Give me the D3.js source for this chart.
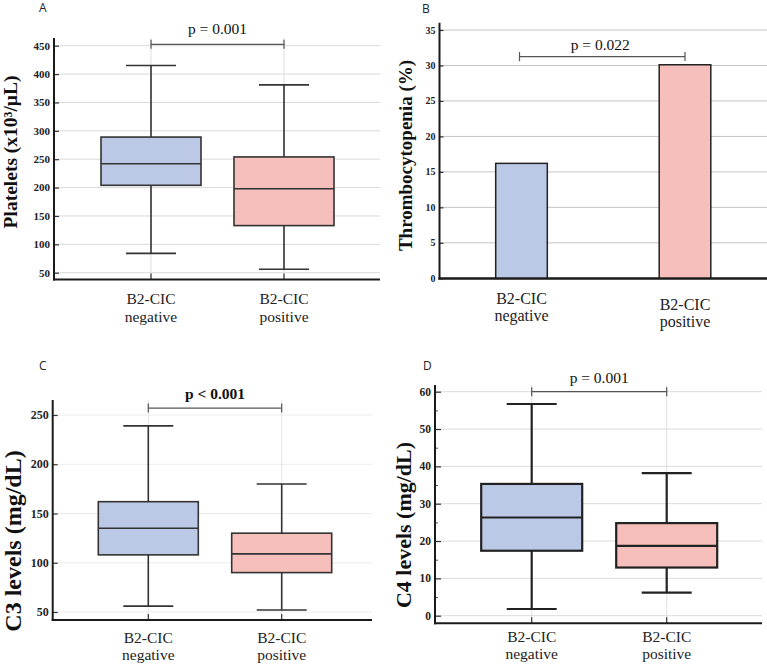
<!DOCTYPE html>
<html><head><meta charset="utf-8">
<script src="https://cdn.jsdelivr.net/npm/d3@7"></script>
<style>body{margin:0;background:#fff}svg{display:block}</style>
</head><body>
<svg id="chart" width="767" height="664"></svg>
<script>
// ---------- data ----------
const categories = ["negative", "positive"];
const groupPrefix = "B2-CIC";

const plateletsMin = [84, 56];
const plateletsQ1 = [204, 133];
const plateletsMedian = [242, 198];
const plateletsQ3 = [289, 254];
const plateletsMax = [415, 381];
const plateletsTicks = [50, 100, 150, 200, 250, 300, 350, 400, 450];

const thrombocytopenia = [16.2, 30.1];
const thrombTicks = [0, 5, 10, 15, 20, 25, 30, 35];

const c3Min = [56, 52];
const c3Q1 = [108, 90];
const c3Median = [135, 109];
const c3Q3 = [162, 130];
const c3Max = [239, 180];
const c3Ticks = [50, 100, 150, 200, 250];

const c4Min = [1.8, 6.2];
const c4Q1 = [17.4, 12.9];
const c4Median = [26.3, 18.7];
const c4Q3 = [35.3, 24.8];
const c4Max = [56.7, 38.2];
const c4Ticks = [0, 10, 20, 30, 40, 50, 60];
const c4MinorTicks = [5, 15, 25, 35, 45, 55];

const pLabels = ["p = 0.001", "p = 0.022", "p < 0.001", "p = 0.001"];
const bracketValues = [452.5, 31.25, 257, 60];
const panelLetters = ["A", "B", "C", "D"];
const yTitles = ["Platelets (x10\u00B3/\u03BCL)", "Thrombocytopenia (%)", "C3 levels (mg/dL)", "C4 levels (mg/dL)"];

const fillColors = ["#bcc9e6", "#f7bfbc"];
const serif = "'Liberation Serif','Times New Roman',serif";

const svg = d3.select("#chart");

function panel(cfg) {
  const g = svg.append("g");
  const x = d3.scalePoint().domain(categories).range(cfg.xRange);
  const y = d3.scaleLinear().domain(cfg.yDomain).range(cfg.yRange);

  // horizontal grid
  g.selectAll(".hg").data(cfg.ticks).join("line")
    .attr("x1", cfg.left).attr("x2", cfg.right)
    .attr("y1", d => y(d)).attr("y2", d => y(d))
    .attr("stroke", cfg.gridColor).attr("stroke-width", 1);
  // vertical grid
  if (cfg.vgrid) {
    g.selectAll(".vg").data(categories).join("line")
      .attr("x1", d => x(d)).attr("x2", d => x(d))
      .attr("y1", cfg.axisTop).attr("y2", cfg.base)
      .attr("stroke", cfg.vgridColor).attr("stroke-width", 1);
  }

  // y axis via d3.axisLeft (inward ticks)
  const yAxis = d3.axisRight(y).tickValues(cfg.ticks).tickSize(cfg.tickLen).tickFormat("");
  const ya = g.append("g").attr("transform", `translate(${cfg.left},0)`).call(yAxis);
  ya.select(".domain").remove();
  ya.selectAll("line").attr("stroke", "#333").attr("stroke-width", 1.2);
  if (cfg.minor) {
    const mAxis = d3.axisRight(y).tickValues(cfg.minor).tickSize(3).tickFormat("");
    const ma = g.append("g").attr("transform", `translate(${cfg.left},0)`).call(mAxis);
    ma.select(".domain").remove();
    ma.selectAll("line").attr("stroke", "#555").attr("stroke-width", 1);
  }
  g.selectAll(".yt").data(cfg.ticks).join("text")
    .attr("x", cfg.left - 4).attr("y", d => y(d)).attr("dy", "0.35em")
    .attr("text-anchor", "end").attr("font-family", serif).attr("font-weight", "bold")
    .attr("font-size", cfg.tickFont).attr("fill", "#222").text(d => d);

  // x ticks at categories (inward)
  if (cfg.xticks) {
    g.selectAll(".xt").data(categories).join("line")
      .attr("x1", d => x(d)).attr("x2", d => x(d))
      .attr("y1", cfg.base).attr("y2", cfg.base - 6)
      .attr("stroke", "#333").attr("stroke-width", 1.2);
  }

  // axes lines
  g.append("line").attr("x1", cfg.left).attr("x2", cfg.left).attr("y1", cfg.axisTop).attr("y2", cfg.base + 1)
    .attr("stroke", "#1a1a1a").attr("stroke-width", 2);
  g.append("line").attr("x1", cfg.left - 1).attr("x2", cfg.right).attr("y1", cfg.base).attr("y2", cfg.base)
    .attr("stroke", "#1a1a1a").attr("stroke-width", 2);

  // panel letter
  g.append("text").attr("x", cfg.letterX).attr("y", cfg.letterY)
    .attr("font-family", "'Open Sans','Noto Sans',sans-serif").attr("font-size", 12).attr("fill", "#222")
    .text(cfg.letter);

  // y title
  g.append("text").attr("transform", `translate(${cfg.titleX},${cfg.titleY}) rotate(-90)`)
    .attr("text-anchor", "middle").attr("font-family", serif).attr("font-weight", "bold")
    .attr("font-size", cfg.titleFont).attr("fill", "#111").text(cfg.title);

  // x labels
  categories.forEach((c, i) => {
    const t = g.append("text").attr("text-anchor", "middle").attr("font-family", serif)
      .attr("font-size", cfg.xFont).attr("fill", "#222");
    const off = cfg.xLabelOffsets ? cfg.xLabelOffsets[i] : 0;
    t.append("tspan").attr("x", x(c)).attr("y", cfg.xLabelY + off).text(groupPrefix);
    t.append("tspan").attr("x", x(c)).attr("y", cfg.xLabelY + off + cfg.xLineGap).text(c);
  });

  // significance bracket
  const by = y(cfg.bracket);
  const bx0 = x(categories[0]) + (cfg.bracketInset || 0), bx1 = x(categories[1]);
  g.append("line").attr("x1", bx0).attr("x2", bx1).attr("y1", by).attr("y2", by)
    .attr("stroke", "#555").attr("stroke-width", 1.2);
  [bx0, bx1].forEach(bx => g.append("line").attr("x1", bx).attr("x2", bx)
    .attr("y1", by - 4.5).attr("y2", by + 4.5).attr("stroke", "#555").attr("stroke-width", 1.2));
  g.append("text").attr("x", (x(categories[0]) + x(categories[1])) / 2 + (cfg.pdx || 0)).attr("y", cfg.pY)
    .attr("text-anchor", "middle").attr("font-family", serif)
    .attr("font-weight", cfg.pBold ? "bold" : "normal")
    .attr("font-size", cfg.pFont).attr("fill", "#111").text(cfg.p);

  return {g, x, y};
}

function boxes(p, cfg, mins, q1s, meds, q3s, maxs) {
  const {g, x, y} = p;
  const bw = cfg.boxWidth, cw = cfg.capWidth, sw = cfg.strokeWidth, col = cfg.stroke;
  categories.forEach((c, i) => {
    const cx = x(c);
    g.append("line").attr("x1", cx).attr("x2", cx).attr("y1", y(maxs[i])).attr("y2", y(q3s[i]))
      .attr("stroke", col).attr("stroke-width", sw);
    g.append("line").attr("x1", cx).attr("x2", cx).attr("y1", y(q1s[i])).attr("y2", y(mins[i]))
      .attr("stroke", col).attr("stroke-width", sw);
    [maxs[i], mins[i]].forEach(v => g.append("line").attr("x1", cx - cw / 2).attr("x2", cx + cw / 2)
      .attr("y1", y(v)).attr("y2", y(v)).attr("stroke", col).attr("stroke-width", sw));
    g.append("rect").attr("x", cx - bw / 2).attr("width", bw)
      .attr("y", y(q3s[i])).attr("height", y(q1s[i]) - y(q3s[i]))
      .attr("fill", fillColors[i]).attr("stroke", col).attr("stroke-width", sw);
    g.append("line").attr("x1", cx - bw / 2).attr("x2", cx + bw / 2)
      .attr("y1", y(meds[i])).attr("y2", y(meds[i])).attr("stroke", col).attr("stroke-width", sw);
  });
}

// ---------- Panel A ----------
const pa = panel({
  left: 54, right: 380, axisTop: 38, base: 279.5,
  xRange: [151, 284], yDomain: [50, 450], yRange: [272.7, 45.7],
  ticks: plateletsTicks, tickLen: 5, tickFont: 11, gridColor: "#d9d9d9",
  vgrid: true, vgridColor: "#dedede", xticks: true,
  letter: panelLetters[0], letterX: 39, letterY: 12,
  title: yTitles[0], titleX: 17, titleY: 152, titleFont: 19.5,
  xFont: 15.5, xLabelY: 304, xLineGap: 18,
  bracket: bracketValues[0], p: pLabels[0], pY: 34, pFont: 15.5
});
boxes(pa, {boxWidth: 100, capWidth: 50, strokeWidth: 1.6, stroke: "#333"},
  plateletsMin, plateletsQ1, plateletsMedian, plateletsQ3, plateletsMax);

// ---------- Panel B ----------
const pb = panel({
  left: 439.5, right: 767, axisTop: 22.7, base: 278.5,
  xRange: [521.5, 685], yDomain: [0, 35], yRange: [278.3, 30],
  ticks: thrombTicks, tickLen: 4, tickFont: 10, gridColor: "#c4c4c4",
  vgrid: false, xticks: false,
  letter: panelLetters[1], letterX: 422, letterY: 13,
  title: yTitles[1], titleX: 412, titleY: 155.5, titleFont: 19,
  xFont: 16, xLabelY: 304, xLineGap: 17, xLabelOffsets: [0, 6],
  bracket: bracketValues[1], p: pLabels[1], pY: 50, pFont: 15.5, bracketInset: -2, pdx: -3
});
{
  const {g, x, y} = pb;
  const bw = 51.6;
  g.selectAll(".bar").data(categories).join("rect")
    .attr("x", d => x(d) - bw / 2).attr("width", bw)
    .attr("y", (d, i) => y(thrombocytopenia[i]))
    .attr("height", (d, i) => y(0) - y(thrombocytopenia[i]))
    .attr("fill", (d, i) => fillColors[i]).attr("stroke", "#222").attr("stroke-width", 1.5);
  g.append("line").attr("x1", 438.5).attr("x2", 767).attr("y1", 278.5).attr("y2", 278.5)
    .attr("stroke", "#1a1a1a").attr("stroke-width", 2);
}

// ---------- Panel C ----------
const pc = panel({
  left: 52.7, right: 372, axisTop: 400, base: 620,
  xRange: [148.3, 281.7], yDomain: [50, 250], yRange: [612, 415],
  ticks: c3Ticks, tickLen: 5, tickFont: 12, gridColor: "#ececec",
  vgrid: true, vgridColor: "#e4e4e4", xticks: true,
  letter: panelLetters[2], letterX: 39, letterY: 370,
  title: yTitles[2], titleX: 21, titleY: 541, titleFont: 24,
  xFont: 15.5, xLabelY: 643, xLineGap: 17,
  bracket: bracketValues[2], p: pLabels[2], pY: 399, pFont: 15.5, pBold: true
});
boxes(pc, {boxWidth: 100, capWidth: 50, strokeWidth: 1.6, stroke: "#333"},
  c3Min, c3Q1, c3Median, c3Q3, c3Max);

// ---------- Panel D ----------
const pd = panel({
  left: 435, right: 762, axisTop: 385, base: 623.3,
  xRange: [531.7, 666.7], yDomain: [0, 60], yRange: [615.7, 391.7],
  ticks: c4Ticks, minor: c4MinorTicks, tickLen: 6, tickFont: 11.5, gridColor: "#dcdcdc",
  vgrid: true, vgridColor: "#e0e0e0", xticks: true,
  letter: panelLetters[3], letterX: 423, letterY: 370,
  title: yTitles[3], titleX: 411, titleY: 525, titleFont: 22,
  xFont: 15.5, xLabelY: 642, xLineGap: 17,
  bracket: bracketValues[3], p: pLabels[3], pY: 383, pFont: 15.5
});
boxes(pd, {boxWidth: 101, capWidth: 50, strokeWidth: 2.2, stroke: "#222"},
  c4Min, c4Q1, c4Median, c4Q3, c4Max);
</script>
</body></html>
